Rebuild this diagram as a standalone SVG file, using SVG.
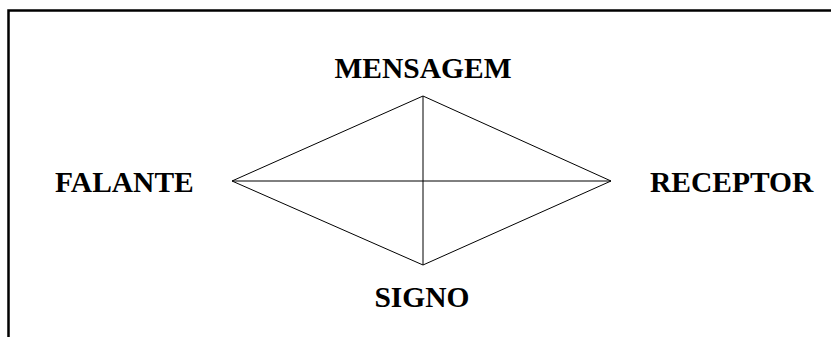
<svg xmlns="http://www.w3.org/2000/svg" width="831" height="337" viewBox="0 0 831 337">
<style>
.t{font-family:"Liberation Serif","Times New Roman",serif;font-weight:bold;font-size:29.5px;fill:#000}
.c{text-anchor:middle}
.l{stroke:#000;stroke-width:1;fill:none}
</style>
<rect width="831" height="337" fill="#fff"/>
<path d="M8.5,337 V10.5 H831" stroke="#000" stroke-width="2.5" fill="none"/>
<g id="connectors">
<path class="l" d="M423,96 L611,181 L423,265 L232,181 Z"/>
<path class="l" d="M232,181 H611 M423,96 V265"/>
</g>
<g id="mensagem"><text class="t c" x="423" y="78">MENSAGEM</text></g>
<g id="falante"><text class="t" x="55" y="192">FALANTE</text></g>
<g id="receptor"><text class="t" x="650" y="192">RECEPTOR</text></g>
<g id="signo"><text class="t c" x="422" y="307">SIGNO</text></g>
</svg>
